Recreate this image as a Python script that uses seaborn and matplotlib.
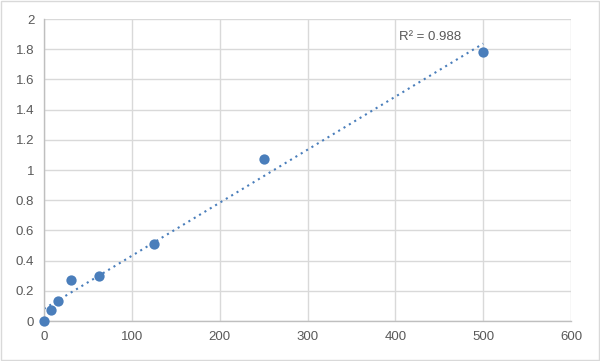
import numpy as np
import pandas as pd
import seaborn as sns
import matplotlib
matplotlib.use("Agg")
import matplotlib.pyplot as plt

conc = [0, 7.8, 15.6, 31.25, 62.5, 125, 250, 500]
od = [0.0, 0.07, 0.13, 0.27, 0.30, 0.51, 1.07, 1.78]
x_ticks = [0, 100, 200, 300, 400, 500, 600]
y_ticks = [0, 0.2, 0.4, 0.6, 0.8, 1, 1.2, 1.4, 1.6, 1.8, 2]
r2_label = "R² = 0.988"

sns.set_theme(style="white")
plt.rcParams['font.family'] = ['Liberation Sans', 'DejaVu Sans']

df = pd.DataFrame({"conc": conc, "od": od})
fig = plt.figure(figsize=(6, 3.61), dpi=100)
ax = fig.add_axes([0.0733, 0.1108, 0.8784, 0.8364])

blue = "#4a7ebb"
coef = np.polyfit(df["conc"], df["od"], 1)
xl = np.array([0, 500])
ax.plot(xl, np.polyval(coef, xl), linestyle=(0, (1, 2)), color=blue, linewidth=1.5, zorder=2)
sns.scatterplot(data=df, x="conc", y="od", ax=ax, color=blue, s=55, edgecolor=blue,
                linewidth=0, zorder=3, clip_on=False)

ax.set_xlim(0, 600)
ax.set_ylim(0, 2)
ax.set_xticks(x_ticks)
ax.set_yticks(y_ticks)
ax.set_xticklabels([str(v) for v in x_ticks])
ax.set_yticklabels([f"{v:g}" for v in y_ticks])
ax.grid(True, color="#d9d9d9", linewidth=1)
ax.set_axisbelow(True)
for s in ["top", "right"]:
    ax.spines[s].set_visible(False)
for s in ["left", "bottom"]:
    ax.spines[s].set_color("#bfbfbf")
    ax.spines[s].set_linewidth(1)
ax.tick_params(axis="both", colors="#595959", labelsize=9.5, length=0, pad=7)
ax.set_xlabel("")
ax.set_ylabel("")
ax.text(404, 1.84, r2_label, color="#595959", fontsize=9.5, ha="left", va="bottom")

fig.patches.append(plt.Rectangle((0.002, 0.003), 0.996, 0.994, transform=fig.transFigure,
                                 fill=False, edgecolor="#d9d9d9", linewidth=1))
fig.savefig("out.png", dpi=100, facecolor="white")
